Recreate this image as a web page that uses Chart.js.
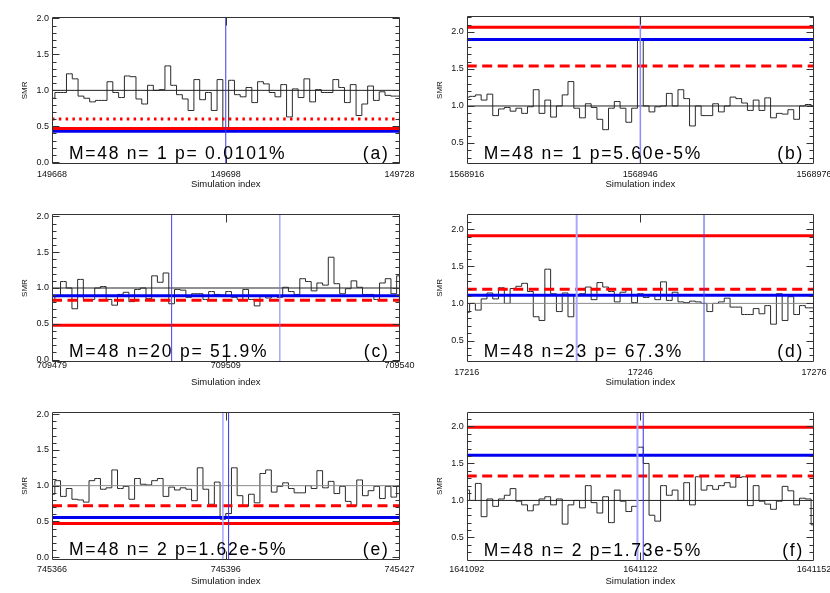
<!DOCTYPE html>
<html>
<head>
<meta charset="utf-8">
<script src="https://cdn.jsdelivr.net/npm/chart.js@4.4.1/dist/chart.umd.min.js"></script>
<style>
  html, body { margin: 0; padding: 0; background: #fff; }
  body { width: 830px; height: 593px; overflow: hidden; position: relative; }
  canvas { position: absolute; }
</style>
</head>
<body>
<canvas id="pa"></canvas>
<canvas id="pb"></canvas>
<canvas id="pc"></canvas>
<canvas id="pd"></canvas>
<canvas id="pe"></canvas>
<canvas id="pf"></canvas>
<script>
// ---------------- data ----------------
const panelTags = ['(a)', '(b)', '(c)', '(d)', '(e)', '(f)'];
const xStart = [149668, 1568916, 709479, 17216, 745366, 1641092];
const xEnd   = [149728, 1568976, 709540, 17276, 745427, 1641152];
const yMin = [-0.025, 0.216, -0.03, 0.215, -0.04, 0.185];
const yMax = [2.025, 2.216, 2.03, 2.203, 2.035, 2.2];
const yMajorTicks = [0.0, 0.5, 1.0, 1.5, 2.0];

const smrA = [0.89,0.97,0.97,1.23,1.16,0.92,0.89,0.84,0.86,0.86,
  1.12,0.97,0.90,1.20,1.19,0.88,0.81,1.07,1.00,1.01,
  1.34,1.07,0.94,0.88,0.72,1.15,0.87,0.97,0.72,1.15,
  0.45,1.14,0.94,0.91,1.04,0.83,1.12,1.09,0.97,0.91,
  1.08,0.63,1.02,0.90,1.16,0.84,1.01,0.97,0.97,1.15,
  1.04,0.83,1.08,0.65,0.81,1.06,0.86,0.98,0.93,0.92,
  0.92];
const smrB = [1.12,1.13,1.15,1.08,1.16,0.87,0.96,0.98,0.93,0.97,
  0.90,0.99,1.22,0.90,1.08,0.85,1.00,1.15,1.33,0.97,
  0.84,1.03,0.98,0.82,0.68,0.97,1.06,0.97,0.78,0.97,
  1.90,1.00,0.92,0.99,1.00,1.17,1.00,1.22,1.10,0.73,
  1.00,0.87,0.87,1.03,0.92,1.00,1.12,1.10,1.04,0.94,
  1.08,0.94,1.11,0.84,0.90,0.89,0.95,0.82,1.00,1.02,
  1.00];
const smrC = [0.80,0.88,1.09,1.00,0.71,1.12,0.84,0.84,1.00,1.02,
  0.84,0.76,0.91,0.94,0.81,0.98,1.00,0.85,1.17,1.08,
  1.21,0.78,0.98,0.97,0.87,0.92,0.92,0.84,0.95,0.91,
  0.90,0.95,0.87,0.84,0.98,0.84,0.75,0.89,0.86,0.89,
  0.87,1.01,0.95,0.91,1.13,1.09,0.96,1.07,1.04,1.43,
  1.06,0.92,0.99,1.10,1.01,0.91,0.91,0.84,1.07,1.13,
  0.92,1.17];
const smrD = [0.88,1.00,0.91,1.06,1.14,1.06,1.21,1.00,1.20,1.23,
  1.27,1.16,0.82,0.77,1.46,1.13,0.89,1.14,0.82,1.11,
  1.13,1.22,1.05,1.28,1.22,1.16,1.02,1.15,1.19,1.01,
  1.13,1.08,1.12,1.05,1.29,1.04,1.15,1.02,1.01,1.03,
  1.02,1.00,0.89,1.00,1.02,1.07,0.95,0.95,0.85,0.85,
  0.93,0.86,0.97,0.72,1.13,0.77,1.09,0.85,0.97,0.94,
  0.94];
const smrE = [0.88,1.07,0.85,0.96,0.81,0.80,0.77,1.07,1.10,0.95,
  0.97,1.22,0.96,0.99,0.81,1.10,1.02,1.01,1.07,1.10,
  0.85,0.98,0.94,0.97,0.95,0.79,1.25,0.95,0.74,1.05,
  0.53,0.61,1.25,0.86,0.71,0.88,0.76,1.17,1.22,0.91,
  0.99,1.04,0.96,0.90,0.90,1.00,0.96,1.21,0.97,1.06,
  0.89,0.99,0.78,0.72,1.08,0.86,0.93,0.99,0.82,0.99,
  0.84,1.00];
const smrF = [1.14,1.00,1.23,0.78,1.02,0.92,1.02,1.07,1.16,0.99,
  0.94,0.86,0.94,1.02,1.05,0.94,1.02,0.68,0.94,1.00,
  0.90,1.20,0.97,0.83,1.05,0.70,1.14,0.99,0.85,0.92,
  1.72,1.50,0.80,0.72,1.20,1.07,1.14,1.00,1.24,0.94,
  1.32,1.14,1.20,1.15,1.20,1.24,1.18,1.31,1.32,0.93,
  1.20,0.99,0.95,0.88,0.99,1.19,1.13,0.94,1.03,1.02,
  0.67];
const smrSeries = [smrA, smrB, smrC, smrD, smrE, smrF];

const unityLevel = [1.0, 1.0, 1.0, 1.0, 1.0, 1.0];
const redSolidLevel = [0.47, 2.065, 0.48, 1.91, 0.47, 1.99];
const redDashLevel  = [0.60, 1.54, 0.83, 1.19, 0.72, 1.33];
const blueLevel     = [0.43, 1.90, 0.89, 1.11, 0.555, 1.61];
const markerX = [[149698], [1568946], [709500, 709519], [17235, 17257], [745396, 745397], [1641121.5, 1641122.5]];
const annotations = ['M=48 n= 1 p= 0.0101%', 'M=48 n= 1 p=5.60e-5%', 'M=48 n=20 p= 51.9%',
                     'M=48 n=23 p= 67.3%', 'M=48 n= 2 p=1.62e-5%', 'M=48 n= 2 p=1.73e-5%'];

// ---------------- layout & style ----------------
const FONT = '"Liberation Sans", Arial, Helvetica, sans-serif';
const layout = [
  {id:'pa', left:0,   top:0,   w:415, h:195, pl:52,   pt:16.7, pr:15.5, pb:164,   tickPad:5,  titlePad:5},
  {id:'pb', left:415, top:0,   w:415, h:195, pl:51.7, pt:16,   pr:16,   pb:164,   tickPad:5,  titlePad:5},
  {id:'pc', left:0,   top:195, w:415, h:195, pl:52,   pt:19.3, pr:15.5, pb:166.7, tickPad:-2, titlePad:1.6},
  {id:'pd', left:415, top:195, w:415, h:195, pl:51.7, pt:19,   pr:16,   pb:166.7, tickPad:5,  titlePad:1.6},
  {id:'pe', left:0,   top:390, w:415, h:203, pl:52,   pt:21.7, pr:15.5, pb:170,   tickPad:4,  titlePad:6.3},
  {id:'pf', left:415, top:390, w:415, h:203, pl:51.7, pt:21.7, pr:16,   pb:170.7, tickPad:3,  titlePad:6.3}
];
const unityColor = ['#222', '#222', '#222', '#8a8a8a', '#8a8a8a', '#222'];
const redDashPattern = [[2.5, 4.3], [10, 5.5], [10, 5.5], [10, 5.5], [10, 5.5], [10, 5.5]];
const markerStyle = [
  [{c:'#3a3ae6', w:1}],
  [{c:'#8c8cff', w:1.5}],
  [{c:'#4545e0', w:1}, {c:'#7a7af0', w:1}],
  [{c:'#a8a8ff', w:2}, {c:'#4a4ae6', w:1}],
  [{c:'#a8a8ff', w:1.5}, {c:'#3434e6', w:1}],
  [{c:'#a8a8ff', w:2}, {c:'#3434e6', w:1}]
];

const framePlugin = {
  id: 'frame',
  afterDatasetsDraw(chart, args, o) {
    const {ctx, chartArea: a, scales: {x, y}} = chart;
    ctx.save();
    ctx.strokeStyle = '#333';
    ctx.lineWidth = 1;
    const L = Math.round(a.left) + 0.5, R = Math.round(a.right) - 0.5;
    const T = Math.round(a.top) + 0.5, B = Math.round(a.bottom) - 0.5;
    ctx.beginPath();
    ctx.rect(L, T, R - L, B - T);
    y.ticks.forEach(t => {
      const py = Math.round(y.getPixelForValue(t.value)) + 0.5;
      if (py <= T || py >= B) return;
      const len = t.label ? 7 : 4;
      ctx.moveTo(L, py); ctx.lineTo(L + len, py);
      ctx.moveTo(R, py); ctx.lineTo(R - len, py);
    });
    x.ticks.forEach(t => {
      const px = Math.round(x.getPixelForValue(t.value)) + 0.5;
      if (px <= L + 1 || px >= R - 1) return;
      ctx.moveTo(px, B); ctx.lineTo(px, B - 8);
      ctx.moveTo(px, T); ctx.lineTo(px, T + 8);
    });
    ctx.stroke();
    ctx.fillStyle = '#000';
    ctx.font = '17.5px ' + FONT;
    ctx.letterSpacing = '1.75px';
    ctx.textBaseline = 'alphabetic';
    ctx.textAlign = 'left';
    ctx.fillText(o.text, a.left + 17, a.bottom - 5);
    ctx.textAlign = 'right';
    ctx.fillText(o.tag, a.right - 10, a.bottom - 5);
    ctx.restore();
  }
};

function hline(xs, xe, v, color, width, dash) {
  return {data: [{x: xs, y: v}, {x: xe, y: v}], borderColor: color, borderWidth: width,
          borderDash: dash || [], pointRadius: 0, fill: false, tension: 0};
}
function vline(xv, y0, y1, color, width) {
  return {data: [{x: xv, y: y0}, {x: xv, y: y1}], borderColor: color, borderWidth: width,
          pointRadius: 0, fill: false, tension: 0};
}

layout.forEach((L, k) => {
  const cv = document.getElementById(L.id);
  cv.width = L.w; cv.height = L.h;
  cv.style.left = L.left + 'px'; cv.style.top = L.top + 'px';
  cv.style.width = L.w + 'px'; cv.style.height = L.h + 'px';
  const xs = xStart[k], xe = xEnd[k];
  const ds = [];
  markerX[k].forEach((m, j) => ds.push(vline(m, yMin[k], yMax[k], markerStyle[k][j].c, markerStyle[k][j].w)));
  ds.push(hline(xs, xe, redSolidLevel[k], '#ff0000', 3));
  ds.push(hline(xs, xe, redDashLevel[k], '#ff0000', 3, redDashPattern[k]));
  ds.push(hline(xs, xe, blueLevel[k], '#0000f0', 3));
  ds.push(hline(xs, xe, unityLevel[k], unityColor[k], 1));
  ds.push({data: smrSeries[k].map((v, i) => ({x: xs + i, y: v})), stepped: 'middle',
           borderColor: '#2a2a2a', borderWidth: 1, pointRadius: 0, fill: false});
  new Chart(cv, {
    type: 'line',
    data: {datasets: ds},
    options: {
      responsive: false, animation: false, events: [],
      layout: {autoPadding: false, padding: {left: 0, top: L.pt, right: L.pr, bottom: 0}},
      plugins: {legend: {display: false}, tooltip: {enabled: false},
                frame: {text: annotations[k], tag: panelTags[k]}},
      scales: {
        x: {type: 'linear', min: xs, max: xe,
            grid: {display: false, drawTicks: false}, border: {display: false},
            afterBuildTicks: s => { s.ticks = [xs, (xs + xe) / 2, xe].map(v => ({value: v})); },
            afterFit: s => { s.height = L.h - L.pb; s.paddingLeft = 0; s.paddingRight = 0; },
            ticks: {autoSkip: false, maxRotation: 0, minRotation: 0, padding: L.tickPad, color: '#111',
                    font: {family: FONT, size: 9}, callback: v => String(Math.floor(v))},
            title: {display: true, text: 'Simulation index', color: '#111',
                    font: {family: FONT, size: 9.5}, padding: {top: 0, bottom: L.titlePad}}},
        y: {type: 'linear', min: yMin[k], max: yMax[k],
            grid: {display: false, drawTicks: false}, border: {display: false},
            afterBuildTicks: s => {
              const out = [];
              for (let q = Math.ceil(s.min * 10 - 1e-9); q <= Math.floor(s.max * 10 + 1e-9); q++) out.push({value: q / 10});
              s.ticks = out;
            },
            afterFit: s => { s.width = L.pl; s.paddingTop = 0; s.paddingBottom = 0; },
            ticks: {autoSkip: false, padding: 3, color: '#111', font: {family: FONT, size: 9},
                    callback: v => {
                      const hit = yMajorTicks.find(m => Math.abs(m - v) < 1e-6);
                      return hit === undefined ? '' : hit.toFixed(1);
                    }},
            title: {display: true, text: 'SMR', color: '#111', font: {family: FONT, size: 8},
                    padding: {top: 19.5, bottom: 0}}}
      }
    },
    plugins: [framePlugin]
  });
});
</script>
</body>
</html>
